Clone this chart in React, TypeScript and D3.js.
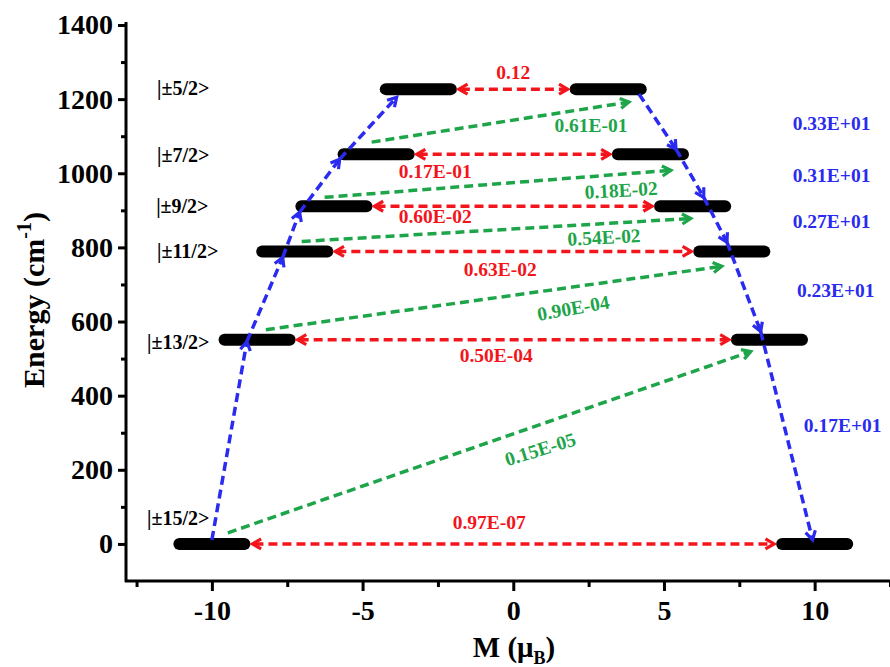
import React, { useEffect, useRef } from 'react';
import * as d3 from 'd3';

// energy levels (Kramers doublets)
const levelLabels = ['|±15/2>', '|±13/2>', '|±11/2>', '|±9/2>', '|±7/2>', '|±5/2>'];
const levelEnergy = [0, 551, 789, 911, 1051, 1227];
const levelM = [10, 8.5, 7.25, 5.95, 4.55, 3.15];

// QTM / TA-QTM (red, horizontal)
const qtmValues = ['0.97E-07', '0.50E-04', '0.63E-02', '0.60E-02', '0.17E-01', '0.12'];

// Orbach / Raman (green, diagonal)
const orbValues = ['0.15E-05', '0.90E-04', '0.54E-02', '0.18E-02', '0.61E-01'];
const orbFromM = [-9.47, -8.21, -7.02, -6.26, -4.7];
const orbFromE = [30, 578, 816, 935, 1084];
const orbToM = [7.88, 6.92, 5.89, 5.23, 3.84];
const orbToE = [519, 749, 878, 1008, 1192];

// blue relaxation path
const upPathM = [-10, -8.84, -7.65, -7.09, -5.76, -3.87];
const upPathE = [11, 546, 773, 895, 1038, 1205];
const downPathM = [4.17, 5.4, 6.32, 7.09, 8.21, 9.93];
const downPathE = [1214, 1065, 935, 814, 573, 11];
const downValues = ['0.33E+01', '0.31E+01', '0.27E+01', '0.23E+01', '0.17E+01'];

// tick labels
const yTicks = [0, 200, 400, 600, 800, 1000, 1200, 1400];
const xTicks = [-10, -5, 0, 5, 10];

// label layout (data units / pixel offsets)
const levelLabelM = [-12.15, -12.15, -11.82, -11.85, -11.82, -11.82];
const levelLabelE = [70, 545, 790, 912, 1049, 1230];
const qtmDx = [-24, -17, -13, -78, -78, 0];
const qtmDy = [-22, 15, 18, 10, 17, -17];
const orbLabelM = [0.89, 1.99, 3.01, 3.58, 2.58];
const orbLabelE = [256, 637, 828, 955, 1130];
const orbRot = [-17, -10, -3, -3, 0];
const downLabelM = [10.56, 10.56, 10.56, 10.7, 10.93];
const downLabelE = [1136, 995, 871, 685, 321];

const RED = '#f2151c';
const GREEN = '#1ea54a';
const BLUE = '#2a2af0';
const FONT = '"Liberation Serif", "Times New Roman", serif';

const App = () => {
  const ref = useRef<SVGSVGElement>(null);

  useEffect(() => {
    const svg = d3.select(ref.current);
    svg.selectAll('*').remove();

    const x = d3.scaleLinear().domain([-12.85, 12.5]).range([126, 890]);
    const y = d3.scaleLinear().domain([-100, 1400]).range([581, 25]);

    // axes
    const yAxis = svg.append('g').attr('transform', 'translate(126,0)');
    yAxis.call(d3.axisLeft(y).tickValues(yTicks).tickSize(8).tickPadding(5).tickFormat((d: any) => String(d)) as any);
    yAxis.call((g) => g.select('.domain').remove());
    yAxis.append('g').call(d3.axisLeft(y).tickValues(d3.range(100, 1400, 200)).tickSize(5).tickFormat(() => '') as any)
      .call((g) => g.select('.domain').remove());
    svg.append('line').attr('x1', 126).attr('x2', 126).attr('y1', 22).attr('y2', 582)
      .attr('stroke', '#000').attr('stroke-width', 3);

    const xAxis = svg.append('g').attr('transform', 'translate(0,581)');
    xAxis.call(d3.axisBottom(x).tickValues(xTicks).tickSize(10).tickPadding(9).tickFormat((d: any) => String(d)) as any);
    xAxis.call((g) => g.select('.domain').remove());
    xAxis.append('g').call(d3.axisBottom(x).tickValues([-12.5, -7.5, -2.5, 2.5, 7.5, 12.5]).tickSize(6).tickFormat(() => '') as any)
      .call((g) => g.select('.domain').remove());
    svg.append('line').attr('x1', 125).attr('x2', 890).attr('y1', 581).attr('y2', 581)
      .attr('stroke', '#000').attr('stroke-width', 3);

    svg.selectAll('.tick line').attr('stroke', '#000').attr('stroke-width', 3);
    svg.selectAll('.tick text').attr('font-family', FONT).attr('font-weight', 'bold')
      .attr('font-size', 28).attr('fill', '#000');

    // axis titles
    const yt = svg.append('text').attr('transform', 'translate(44,300) rotate(-90)')
      .attr('text-anchor', 'middle').attr('font-family', FONT).attr('font-weight', 'bold')
      .attr('font-size', 30).attr('fill', '#000');
    yt.append('tspan').text('Energy (cm');
    yt.append('tspan').attr('font-size', 20).attr('dy', -13).text('-1');
    yt.append('tspan').attr('dy', 13).text(')');

    const xt = svg.append('text').attr('x', 514).attr('y', 657)
      .attr('text-anchor', 'middle').attr('font-family', FONT).attr('font-weight', 'bold')
      .attr('font-size', 29).attr('fill', '#000');
    xt.append('tspan').text('M (μ');
    xt.append('tspan').attr('font-size', 18).attr('dy', 7).text('B');
    xt.append('tspan').attr('dy', -7).text(')');

    const head = (g: any, x1: number, y1: number, x2: number, y2: number, color: string) => {
      const a = Math.atan2(y2 - y1, x2 - x1);
      const L = 10, t = Math.PI / 6;
      const p1 = [x2 - L * Math.cos(a - t), y2 - L * Math.sin(a - t)];
      const p2 = [x2 - L * Math.cos(a + t), y2 - L * Math.sin(a + t)];
      g.append('path').attr('d', `M${p1[0]},${p1[1]}L${x2},${y2}L${p2[0]},${p2[1]}`)
        .attr('fill', 'none').attr('stroke', color).attr('stroke-width', 3.2)
        .attr('stroke-linejoin', 'miter');
    };
    const dashed = (g: any, x1: number, y1: number, x2: number, y2: number, color: string) => {
      g.append('line').attr('x1', x1).attr('y1', y1).attr('x2', x2).attr('y2', y2)
        .attr('stroke', color).attr('stroke-width', 3.5).attr('stroke-dasharray', '9,5');
    };
    const label = (g: any, txt: string, px: number, py: number, color: string, rot = 0, size = 19.5, anchor = 'middle') => {
      g.append('text').attr('transform', `translate(${px},${py}) rotate(${rot})`)
        .attr('text-anchor', anchor).attr('dy', '0.35em')
        .attr('font-family', FONT).attr('font-weight', 'bold').attr('font-size', size)
        .attr('fill', color).text(txt);
    };

    const g = svg.append('g');

    // black level bars
    const halfBar = 1.08;
    levelM.forEach((m, i) => {
      [-m, m].forEach((c) => {
        g.append('line').attr('x1', x(c - halfBar)).attr('x2', x(c + halfBar))
          .attr('y1', y(levelEnergy[i])).attr('y2', y(levelEnergy[i]))
          .attr('stroke', '#000').attr('stroke-width', 12).attr('stroke-linecap', 'round');
      });
    });

    // red horizontal arrows
    levelM.forEach((m, i) => {
      const yy = y(levelEnergy[i]);
      const xa = x(-m + halfBar) + 8;
      const xb = x(m - halfBar) - 8;
      dashed(g, xa + 2, yy, xb - 2, yy, RED);
      head(g, xb - 10, yy, xb, yy, RED);
      head(g, xa + 10, yy, xa, yy, RED);
      label(g, qtmValues[i], (xa + xb) / 2 + qtmDx[i], yy + qtmDy[i], RED);
    });

    // green diagonal arrows
    orbValues.forEach((v, i) => {
      const x1 = x(orbFromM[i]), y1 = y(orbFromE[i]);
      const x2 = x(orbToM[i]), y2 = y(orbToE[i]);
      dashed(g, x1, y1, x2, y2, GREEN);
      head(g, x1, y1, x2, y2, GREEN);
      label(g, v, x(orbLabelM[i]), y(orbLabelE[i]), GREEN, orbRot[i]);
    });

    // blue path
    for (let i = 0; i < upPathM.length - 1; i++) {
      const x1 = x(upPathM[i]), y1 = y(upPathE[i]);
      const x2 = x(upPathM[i + 1]), y2 = y(upPathE[i + 1]);
      dashed(g, x1, y1, x2, y2, BLUE);
      head(g, x1, y1, x2, y2, BLUE);
    }
    for (let i = 0; i < downPathM.length - 1; i++) {
      const x1 = x(downPathM[i]), y1 = y(downPathE[i]);
      const x2 = x(downPathM[i + 1]), y2 = y(downPathE[i + 1]);
      dashed(g, x1, y1, x2, y2, BLUE);
      head(g, x1, y1, x2, y2, BLUE);
      label(g, downValues[i], x(downLabelM[i]), y(downLabelE[i]), BLUE);
    }

    // level labels
    levelLabels.forEach((t, i) => {
      label(g, t, x(levelLabelM[i]), y(levelLabelE[i]), '#000', 0, 20, 'start');
    });
  }, []);

  return (
    <svg ref={ref} width={890} height={667}
      style={{ position: 'absolute', left: 0, top: 0, background: '#fff' }} />
  );
};

export default App;
